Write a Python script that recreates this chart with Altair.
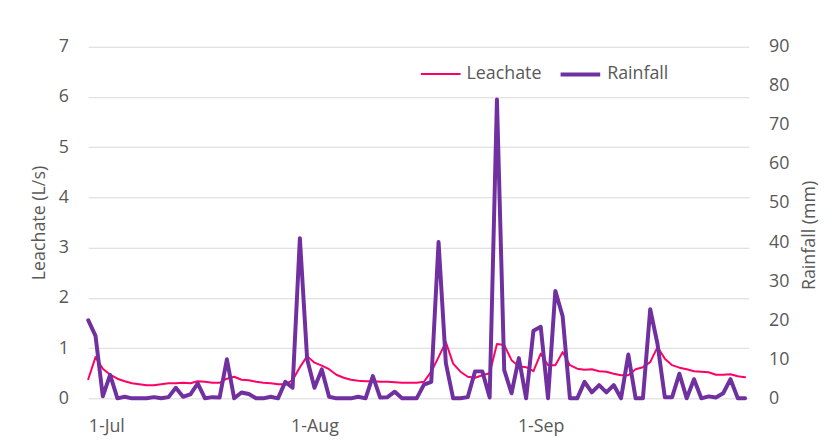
import altair as alt
import pandas as pd

# Daily values, 1 Jul .. 29 Sep
start_date = "2019-07-01"
n_days = 91

leachate = [0.38, 0.82, 0.59, 0.47, 0.39, 0.34, 0.30, 0.28, 0.26, 0.26,
            0.28, 0.30, 0.30, 0.31, 0.30, 0.34, 0.33, 0.31, 0.31, 0.39,
            0.43, 0.37, 0.36, 0.33, 0.31, 0.30, 0.28, 0.28, 0.36, 0.62,
            0.84, 0.71, 0.65, 0.58, 0.47, 0.41, 0.37, 0.35, 0.34, 0.34,
            0.33, 0.33, 0.32, 0.31, 0.31, 0.31, 0.33, 0.53, 0.82, 1.12,
            0.69, 0.53, 0.43, 0.41, 0.46, 0.50, 1.08, 1.06, 0.76, 0.64,
            0.62, 0.54, 0.89, 0.66, 0.66, 0.92, 0.66, 0.59, 0.57, 0.58,
            0.54, 0.53, 0.49, 0.46, 0.46, 0.58, 0.62, 0.72, 1.02, 0.79,
            0.66, 0.61, 0.58, 0.54, 0.53, 0.52, 0.47, 0.47, 0.48, 0.44,
            0.42]

rainfall = [20, 16, 0.5, 6, 0, 0.4, 0, 0, 0, 0.3,
            0, 0.3, 2.7, 0.4, 1.0, 3.8, 0, 0.3, 0.2, 10,
            0, 1.5, 1.1, 0, 0, 0.4, 0, 4.2, 2.7, 41,
            10, 2.7, 7.4, 0.4, 0, 0, 0, 0.4, 0, 5.7,
            0.2, 0.3, 1.7, 0, 0, 0, 3.5, 4.2, 40, 9,
            0, 0, 0.3, 6.9, 6.9, 0.2, 76.5, 7.2, 1.3, 10.3,
            0, 17.3, 18.3, 0, 27.5, 21, 0, 0, 4.2, 1.5,
            3.4, 1.5, 3.4, 0, 11.2, 0, 0, 22.8, 13.9, 0.3,
            0.3, 6.3, 0, 4.9, 0, 0.5, 0.2, 1.3, 4.9, 0,
            0]

series_names = ["Leachate", "Rainfall"]
series_colors = ["#FF0066", "#7030A0"]
series_widths = [2, 4]

left_ticks = [0, 1, 2, 3, 4, 5, 6, 7]
right_ticks = [0, 10, 20, 30, 40, 50, 60, 70, 80, 90]

df = pd.DataFrame({
    "date": pd.date_range(start_date, periods=n_days, freq="D"),
    "Leachate": leachate,
    "Rainfall": rainfall,
})

FONT = "Open Sans"
GREY = "#595959"

x_enc = alt.X(
    "date:T",
    scale=alt.Scale(domain=[alt.DateTime(year=2019, month=7, date=1),
                            alt.DateTime(year=2019, month=9, date=29, hours=12)]),
    axis=alt.Axis(
        title=None, format="%-d-%b",
        values=[alt.DateTime(year=2019, month=7, date=1),
                alt.DateTime(year=2019, month=8, date=1),
                alt.DateTime(year=2019, month=9, date=1)],
        grid=False, ticks=False, tickSize=0, domain=False,
        labelPadding=20, labelFontSize=18, labelColor=GREY, labelFont=FONT,
    ),
)

legend_kw = dict(title=None, orient="none", legendX=335, legendY=6,
                 direction="horizontal", symbolType="stroke",
                 symbolSize=1600, labelFontSize=18, labelColor=GREY,
                 labelFont=FONT, labelOffset=5, columnPadding=11, padding=0)

color_enc = alt.Color(
    "series:N",
    scale=alt.Scale(domain=series_names, range=series_colors),
    legend=alt.Legend(**legend_kw),
)
width_enc = alt.StrokeWidth(
    "series:N",
    scale=alt.Scale(domain=series_names, range=series_widths),
    legend=alt.Legend(**legend_kw),
)

base = alt.Chart(df)

leach_line = base.mark_line(strokeJoin="round", strokeCap="round").transform_calculate(
    series="'Leachate'"
).encode(
    x=x_enc,
    y=alt.Y("Leachate:Q", scale=alt.Scale(domain=[0, 7], nice=False),
            axis=alt.Axis(title="Leachate (L/s)", values=left_ticks, grid=True,
                          gridColor="#D9D9D9", gridWidth=1, ticks=False, tickSize=0,
                          domain=False, labelPadding=20, labelFontSize=18,
                          labelColor=GREY, labelFont=FONT, titleFontSize=18,
                          titleFont=FONT, titleColor=GREY, titleFontWeight="normal",
                          titlePadding=10)),
    color=color_enc,
    strokeWidth=width_enc,
)

rain_line = base.mark_line(strokeJoin="round", strokeCap="round").transform_calculate(
    series="'Rainfall'"
).encode(
    x=x_enc,
    y=alt.Y("Rainfall:Q", scale=alt.Scale(domain=[0, 90], nice=False),
            axis=alt.Axis(title="Rainfall (mm)", orient="right", values=right_ticks,
                          grid=False, ticks=False, tickSize=0, domain=False,
                          labelPadding=20, labelFontSize=18, labelColor=GREY,
                          labelFont=FONT, titleFontSize=18, titleFont=FONT,
                          titleColor=GREY, titleFontWeight="normal",
                          titleAngle=270, titleBaseline="top", titlePadding=12,
                          titleY=190)),
    color=color_enc,
    strokeWidth=width_enc,
)

chart = alt.layer(leach_line, rain_line).resolve_scale(
    y="independent"
).properties(
    width=667,
    height=355,
    autosize=alt.AutoSizeParams(type="none"),
    padding={"left": 81, "top": 37, "right": 77, "bottom": 46},
    background="white",
).configure_view(stroke=None)

chart.save("out.html", embed_options={"renderer": "svg", "actions": False})
